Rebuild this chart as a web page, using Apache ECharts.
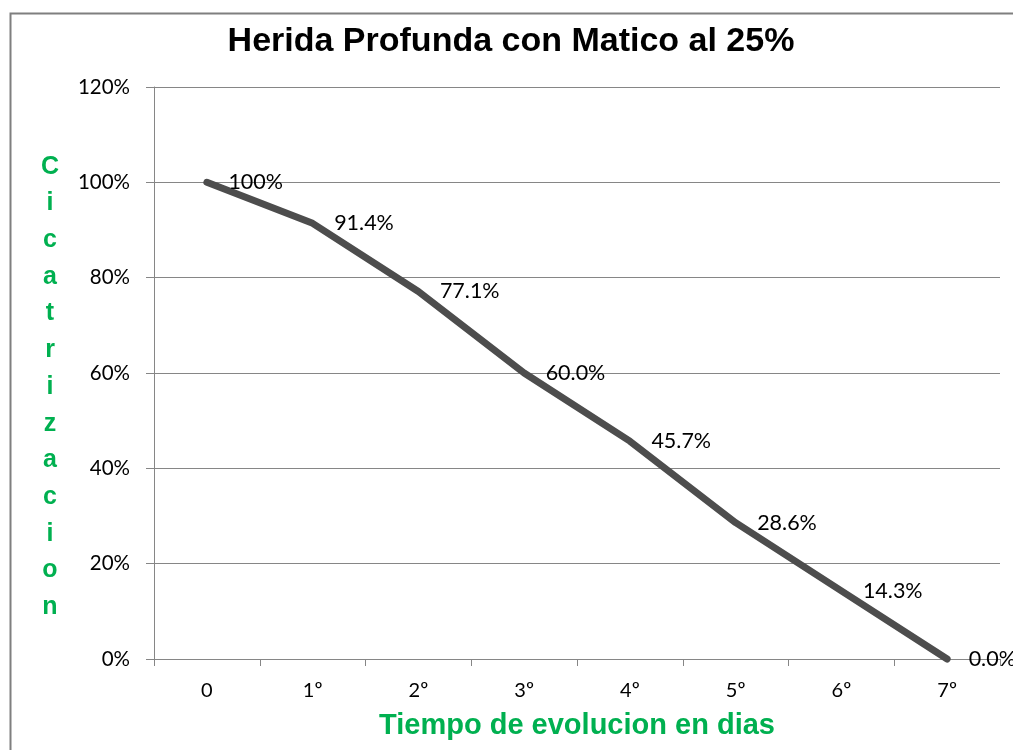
<!DOCTYPE html>
<html>
<head>
<meta charset="utf-8">
<script src="https://cdn.jsdelivr.net/npm/echarts@6/dist/echarts.min.js"></script>
<style>
  html, body { margin: 0; padding: 0; background: #fff; }
  #chart { width: 1013px; height: 750px; }
</style>
</head>
<body>
<div id="chart"></div>
<script>
  // datos
  var dias = ['0', '1º', '2º', '3º', '4º', '5º', '6º', '7º'];
  var cicatrizacion = [1.0, 0.914, 0.771, 0.600, 0.457, 0.286, 0.143, 0.0];
  var etiquetas = ['100%', '91.4%', '77.1%', '60.0%', '45.7%', '28.6%', '14.3%', '0.0%'];
  var yTicks = [0, 0.2, 0.4, 0.6, 0.8, 1.0, 1.2];
  var yNombre = 'Cicatrizacion';

  var fuente = 'Lato, "Open Sans", sans-serif';
  var myChart = echarts.init(document.getElementById('chart'));

  // nombre vertical, letra por letra (primera linea vacia para bajarlo un poco)
  var nombreVertical = '{s| }\n' + yNombre.split('').map(function (c) {
    return '{l|' + c + '}';
  }).join('\n');

  var option = {
    animation: false,
    title: {
      text: 'Herida Profunda con Matico al 25%',
      left: 506,
      textAlign: 'center',
      top: 20,
      textStyle: {
        fontFamily: '"Liberation Sans", Arial, sans-serif',
        fontWeight: 'bold',
        fontSize: 34,
        color: '#000'
      }
    },
    graphic: [{
      type: 'rect',
      shape: { x: 10.5, y: 13.5, width: 1100, height: 900 },
      style: { fill: 'none', stroke: '#7f7f7f', lineWidth: 2 },
      silent: true
    }],
    grid: {
      left: 154,
      right: 13,
      top: 87,
      bottom: 91
    },
    xAxis: {
      type: 'category',
      data: dias,
      boundaryGap: true,
      name: 'Tiempo de evolucion en dias',
      nameLocation: 'middle',
      nameGap: 67,
      nameTextStyle: {
        fontFamily: '"Liberation Sans", Arial, sans-serif',
        fontWeight: 'bold',
        fontSize: 29,
        color: '#00b050',
        verticalAlign: 'middle'
      },
      axisLine: { lineStyle: { color: '#868686', width: 1 } },
      axisTick: { show: true, length: 7, lineStyle: { color: '#868686' } },
      axisLabel: {
        margin: 22,
        fontFamily: fuente,
        fontSize: 20,
        color: '#000'
      },
      splitLine: { show: false }
    },
    yAxis: {
      type: 'value',
      min: 0,
      max: 1.2,
      interval: 0.2,
      name: nombreVertical,
      nameLocation: 'middle',
      nameGap: 104,
      nameRotate: 0,
      nameTextStyle: {
        align: 'center',
        verticalAlign: 'middle',
        rich: {
          s: { fontSize: 1, lineHeight: 28 },
          l: {
            fontFamily: '"Liberation Sans", Arial, sans-serif',
            fontWeight: 'bold',
            fontSize: 25,
            lineHeight: 36.7,
            color: '#00b050',
            align: 'center'
          }
        }
      },
      axisLine: { show: true, lineStyle: { color: '#868686', width: 1 } },
      axisTick: { show: true, length: 8, lineStyle: { color: '#868686' } },
      axisLabel: {
        margin: 24,
        fontFamily: fuente,
        fontSize: 20.5,
        color: '#000',
        formatter: function (v) {
          var i = yTicks.findIndex(function (t) { return Math.abs(t - v) < 1e-6; });
          return i >= 0 ? Math.round(yTicks[i] * 100) + '%' : '';
        }
      },
      splitLine: { show: true, lineStyle: { color: '#868686', width: 1 } }
    },
    series: [{
      type: 'line',
      data: cicatrizacion,
      symbol: 'circle',
      symbolSize: 1,
      showSymbol: true,
      itemStyle: { color: '#4d4d4d', opacity: 0 },
      lineStyle: { color: '#4d4d4d', width: 7, cap: 'round', join: 'round' },
      label: {
        show: true,
        position: 'right',
        distance: 21,
        fontFamily: fuente,
        fontSize: 21.5,
        color: '#000',
        opacity: 1,
        formatter: function (p) { return etiquetas[p.dataIndex]; }
      },
      labelLayout: { hideOverlap: false },
      clip: false
    }]
  };

  myChart.setOption(option);
</script>
</body>
</html>
